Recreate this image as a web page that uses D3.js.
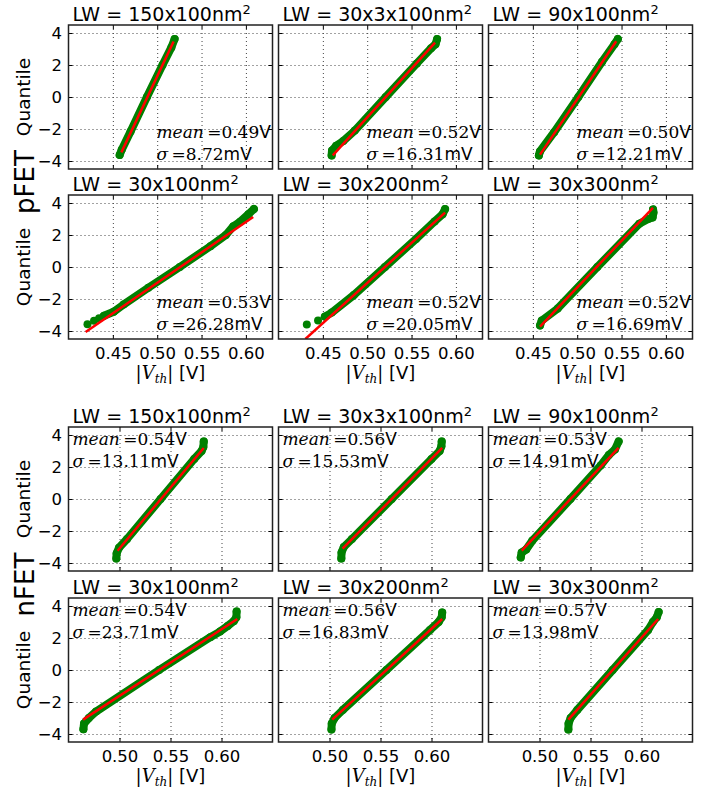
<!DOCTYPE html>
<html>
<head>
<meta charset="utf-8">
<script src="https://cdn.jsdelivr.net/npm/d3@7"></script>
<style>
body { margin: 0; background: #fff; }
text { font-family: "DejaVu Sans", sans-serif; fill: #000; }
</style>
</head>
<body>
<script>
// panel titles, same order for both transistor types (row by row)
var titles = ["150x100", "30x3x100", "90x100", "30x100", "30x200", "30x300"];

var pMean  = ["0.49", "0.52", "0.50", "0.53", "0.52", "0.52"];
var pSigma = ["8.72", "16.31", "12.21", "26.28", "20.05", "16.69"];
var nMean  = ["0.54", "0.56", "0.53", "0.54", "0.56", "0.57"];
var nSigma = ["13.11", "15.53", "14.91", "23.71", "16.83", "13.98"];

var pTicks = [0.45, 0.50, 0.55, 0.60];
var nTicks = [0.50, 0.55, 0.60];
var qTicks = [-4, -2, 0, 2, 4];

// sorted |Vth| against normal quantile, read along the band of dots: [V, quantile]
var pBand = [
    [[0.4577,-3.62],[0.4600,-3.3],[0.4700,-2.15],[0.4884,0],[0.5060,2.0],[0.5160,3.1],[0.5196,3.62]],
    [[0.4599,-3.65],[0.4603,-3.35],[0.4650,-3.05],[0.4730,-2.75],[0.4860,-2.1],[0.5209,0],[0.5560,2.1],[0.5720,3.05],[0.5770,3.3],[0.5788,3.62]],
    [[0.4568,-3.65],[0.4580,-3.4],[0.4740,-2.2],[0.5013,0],[0.5280,2.2],[0.5420,3.3],[0.5458,3.62]],
    [[0.4400,-3.05],[0.4510,-2.8],[0.4620,-2.35],[0.4900,-1.3],[0.5255,0],[0.5600,1.3],[0.5774,2.0],[0.5859,2.55],[0.5934,2.83],[0.6028,3.3],[0.6090,3.62]],
    [[0.4523,-3.1],[0.4600,-2.85],[0.4850,-1.75],[0.5200,0],[0.5550,1.75],[0.5760,2.85],[0.5850,3.3],[0.5878,3.62]],
    [[0.4581,-3.65],[0.4600,-3.35],[0.4780,-2.6],[0.5227,0],[0.5700,2.7],[0.5800,3.0],[0.5850,3.1],[0.5860,3.4],[0.5855,3.6]]
];
// isolated dots at the low end
var pLone = [[], [], [],
    [[0.4214,-3.58],[0.4288,-3.36],[0.4345,-3.2]],
    [[0.4319,-3.6],[0.4446,-3.35]],
    []];
// red fitted line end points
var pFit = [
    [[0.4596,-3.46],[0.5185,3.47]],
    [[0.4612,-3.65],[0.5765,3.4]],
    [[0.4581,-3.6],[0.5440,3.48]],
    [[0.4193,-4.06],[0.6082,3.125]],
    [[0.4303,-4.5],[0.5878,3.4]],
    [[0.4581,-3.72],[0.5854,3.70]]
];

var nBand = [
    [[0.4969,-3.72],[0.4972,-3.4],[0.4995,-3.05],[0.5074,-2.5],[0.5403,0],[0.5732,2.5],[0.5805,3.0],[0.5822,3.25],[0.5826,3.6]],
    [[0.5116,-3.72],[0.5118,-3.35],[0.5140,-3.0],[0.5220,-2.5],[0.5610,0],[0.6000,2.5],[0.6080,3.0],[0.6097,3.3],[0.6100,3.6]],
    [[0.4816,-3.65],[0.4825,-3.35],[0.4870,-3.15],[0.4930,-2.6],[0.5303,0],[0.5600,2.1],[0.5680,2.75],[0.5740,3.1],[0.5776,3.6]],
    [[0.4646,-3.7],[0.4652,-3.35],[0.4700,-3.0],[0.4770,-2.6],[0.5388,0],[0.5890,2.05],[0.5985,2.4],[0.6060,2.75],[0.6120,3.05],[0.6146,3.3],[0.6148,3.65]],
    [[0.5019,-3.72],[0.5022,-3.35],[0.5050,-3.0],[0.5130,-2.5],[0.5558,0],[0.5985,2.5],[0.6070,3.0],[0.6100,3.3],[0.6105,3.6]],
    [[0.5283,-3.72],[0.5285,-3.35],[0.5305,-3.0],[0.5370,-2.5],[0.5717,0],[0.6065,2.5],[0.6112,3.0],[0.6150,3.3],[0.6168,3.62]]
];
var nLone = [[], [], [], [], [], []];
var nFit = [
    [[0.4981,-3.23],[0.5826,3.19]],
    [[0.5128,-3.1],[0.6105,3.19]],
    [[0.4826,-3.23],[0.5775,3.19]],
    [[0.4643,-3.1],[0.6155,3.19]],
    [[0.5027,-3.1],[0.6105,3.19]],
    [[0.5283,-3.1],[0.6163,3.19]]
];

var width = 716, height = 798;
var panelW = 204, panelH = 144;
var lefts = [68.5, 278.5, 488.5];

var svg = d3.select("body").append("svg")
    .attr("width", width)
    .attr("height", height);

svg.append("rect").attr("width", width).attr("height", height).attr("fill", "#fff");

var y = d3.scaleLinear().domain([-4.5, 4.5]).range([panelH, 0]);

function drawGroup(name, tops, xDomain, xTicks, means, sigmas, bands, lone, fits, statsTop) {
    var x = d3.scaleLinear().domain(xDomain).range([0, panelW]);

    var line = d3.line()
        .x(function(d) { return x(d[0]); })
        .y(function(d) { return y(d[1]); });

    for (var k = 0; k < 6; k++) {
        var row = Math.floor(k / 3), col = k % 3;
        var g = svg.append("g")
            .attr("transform", "translate(" + lefts[col] + "," + tops[row] + ")");

        var clipId = "clip-" + name + k;
        g.append("clipPath").attr("id", clipId)
            .append("rect").attr("width", panelW).attr("height", panelH);

        // dotted grid
        g.append("g").attr("class", "grid")
            .call(d3.axisBottom(x).tickValues(xTicks).tickSize(panelH).tickFormat(""));
        g.append("g").attr("class", "grid")
            .call(d3.axisRight(y).tickValues(qTicks).tickSize(panelW).tickFormat(""));
        g.selectAll(".grid .domain").remove();
        g.selectAll(".grid line")
            .attr("stroke", "#444")
            .attr("stroke-width", 1)
            .attr("stroke-dasharray", "1,3");

        var data = g.append("g").attr("clip-path", "url(#" + clipId + ")");

        data.append("path")
            .datum(bands[k])
            .attr("d", line)
            .attr("fill", "none")
            .attr("stroke", "#008000")
            .attr("stroke-width", 8)
            .attr("stroke-linecap", "round")
            .attr("stroke-linejoin", "round");

        data.selectAll("circle")
            .data(bands[k].concat(lone[k]))
            .enter()
            .append("circle")
            .attr("cx", function(d) { return x(d[0]); })
            .attr("cy", function(d) { return y(d[1]); })
            .attr("r", 4)
            .attr("fill", "#008000");

        data.append("path")
            .datum(fits[k])
            .attr("d", line)
            .attr("fill", "none")
            .attr("stroke", "#ff0000")
            .attr("stroke-width", 2.5);

        // inward ticks on all four sides
        var bottom = d3.axisBottom(x).tickValues(xTicks).tickSizeInner(-4).tickSizeOuter(0).tickPadding(8);
        if (row == 0) bottom.tickFormat("");
        else bottom.tickFormat(d3.format(".2f"));
        g.append("g").attr("class", "axis")
            .attr("transform", "translate(0," + panelH + ")")
            .call(bottom);

        g.append("g").attr("class", "axis")
            .call(d3.axisTop(x).tickValues(xTicks).tickSizeInner(-4).tickSizeOuter(0).tickFormat(""));

        var left = d3.axisLeft(y).tickValues(qTicks).tickSizeInner(-4).tickSizeOuter(0).tickPadding(6.5);
        if (col > 0) left.tickFormat("");
        g.append("g").attr("class", "axis").call(left);

        g.append("g").attr("class", "axis")
            .attr("transform", "translate(" + panelW + ",0)")
            .call(d3.axisRight(y).tickValues(qTicks).tickSizeInner(-4).tickSizeOuter(0).tickFormat(""));

        g.selectAll(".axis .domain").remove();
        g.selectAll(".axis line").attr("stroke", "#000");
        g.selectAll(".axis text")
            .style("font-family", "DejaVu Sans")
            .style("font-size", "16.5px")
            .attr("fill", "#000");

        g.append("rect")
            .attr("width", panelW)
            .attr("height", panelH)
            .attr("fill", "none")
            .attr("stroke", "#222")
            .attr("stroke-width", 1.5);

        // title
        var t = g.append("text")
            .attr("x", 4)
            .attr("y", -4.5)
            .style("font-size", "19px");
        t.append("tspan").text("LW = " + titles[k] + "nm");
        t.append("tspan").attr("dy", -7).style("font-size", "13px").text("2");

        // mean and sigma
        var sx = statsTop.x, sy = statsTop.y;
        var s1 = g.append("text").attr("x", sx).attr("y", sy).style("font-size", "17px");
        s1.append("tspan").style("font-family", "DejaVu Serif").style("font-style", "italic").text("mean");
        s1.append("tspan").style("font-family", "DejaVu Serif").text("\u2009=" + means[k]);
        s1.append("tspan").text("V");
        var s2 = g.append("text").attr("x", sx).attr("y", sy + 22).style("font-size", "17px");
        s2.append("tspan").style("font-family", "DejaVu Serif").style("font-style", "italic").text("σ");
        s2.append("tspan").style("font-family", "DejaVu Serif").text("\u2009=" + sigmas[k]);
        s2.append("tspan").text("mV");

        // x label under the bottom row
        if (row == 1) {
            var xl = g.append("text")
                .attr("x", panelW / 2)
                .attr("y", panelH + 40)
                .attr("text-anchor", "middle")
                .style("font-size", "18px");
            xl.append("tspan").style("font-family", "DejaVu Serif").text("|");
            xl.append("tspan").style("font-family", "DejaVu Serif").style("font-style", "italic").text("V");
            xl.append("tspan").attr("dy", 4).style("font-family", "DejaVu Serif").style("font-style", "italic").style("font-size", "12px").text("th");
            xl.append("tspan").attr("dy", -4).style("font-family", "DejaVu Serif").text("|");
            xl.append("tspan").text(" [V]");
        }

        if (col == 0) {
            svg.append("text")
                .attr("transform", "translate(29.5," + (tops[row] + panelH / 2) + ") rotate(-90)")
                .attr("text-anchor", "middle")
                .style("font-size", "18.5px")
                .text("Quantile");
        }
    }

    svg.append("text")
        .attr("transform", "translate(34," + ((tops[0] + panelH + tops[1]) / 2) + ") rotate(-90)")
        .attr("text-anchor", "middle")
        .style("font-size", "26px")
        .text(name);
}

drawGroup("pFET", [25, 195], [0.40, 0.63], pTicks, pMean, pSigma, pBand, pLone, pFit, {x: 88, y: 112.5});
drawGroup("nFET", [427, 598], [0.45, 0.65], nTicks, nMean, nSigma, nBand, nLone, nFit, {x: 4, y: 18});
</script>
</body>
</html>
